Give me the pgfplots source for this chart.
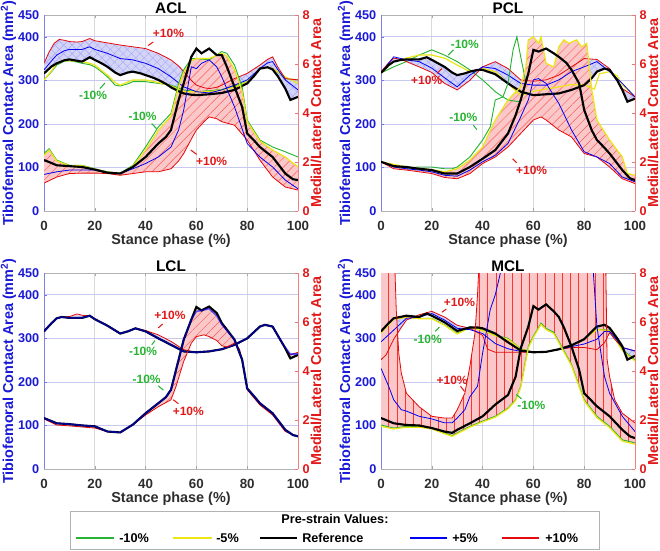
\documentclass[border=0pt]{standalone}
\usepackage{fontspec}
\setmainfont{Liberation Sans}
\usepackage{pgfplots}
\pgfplotsset{compat=1.18}
\usepgfplotslibrary{fillbetween}
\usetikzlibrary{patterns.meta}

\definecolor{mblue}{RGB}{25,25,215}
\definecolor{mred}{RGB}{225,25,25}
\definecolor{cgreen}{RGB}{40,180,50}
\definecolor{cyellow}{RGB}{235,230,20}
\definecolor{cblue}{RGB}{0,0,245}
\definecolor{cred}{RGB}{230,10,10}
\definecolor{pinkfill}{RGB}{250,200,200}
\definecolor{lavfill}{RGB}{212,212,245}
\definecolor{gridblue}{RGB}{200,200,240}
\definecolor{axgray}{RGB}{45,45,45}

\newcommand{\tickfont}{\fontsize{9.5}{10}\selectfont\bfseries}
\newcommand{\xtickfont}{\fontsize{10}{11}\selectfont\bfseries}
\newcommand{\labfont}{\fontsize{10.8}{12}\selectfont\bfseries}
\newcommand{\annfont}{\fontsize{9}{10}\selectfont\bfseries}

\pgfplotsset{
  leftax/.style={
    set layers,
    scale only axis, width=190.5pt, height=147pt,
    anchor=south west,
    xmin=0, xmax=100, ymin=0, ymax=450,
    xtick={0,20,40,60,80,100}, ytick={0,100,200,300,400,450},
    ytick pos=left,
    tick align=inside, major tick length=2.5pt,
    xmajorgrids, ymajorgrids,
    major x grid style={draw=gray!30, line width=0.5pt},
    major y grid style={draw=gridblue, line width=0.5pt},
    separate axis lines,
    x axis line style={draw=gray!60, -},
    y axis line style={draw=mblue!55, -},
    xtick style={draw=gray!70},
    ytick style={draw=mblue!60},
    /pgf/number format/assume math mode=true,
    xticklabel style={font=\xtickfont, text=axgray, yshift=-4pt},
    yticklabel style={font=\tickfont, text=mblue},
    xlabel={Stance phase (\%)},
    ylabel={Tibiofemoral Contact Area (mm\textsuperscript{2})},
    every axis x label/.style={at={(axis description cs:0.5,-0.173)}, anchor=base, font=\labfont, text=axgray},
    every axis y label/.style={at={(axis description cs:-0.14,0.5)}, rotate=90, anchor=center, font=\labfont, text=mblue},
    every axis title/.style={at={(axis description cs:0.5,1)}, anchor=base, yshift=1.5pt, font=\fontsize{11.5}{12}\selectfont\bfseries},
  },
  rightax/.style={
    scale only axis, width=190.5pt, height=147pt,
    anchor=south west,
    xmin=0, xmax=100, ymin=0, ymax=8, ytick={0,2,4,6,8},
    axis x line=none, axis y line*=right,
    y axis line style={draw=mred!55, -},
    ytick style={draw=mred!60},
    tick align=inside, major tick length=2.5pt,
    /pgf/number format/assume math mode=true,
    yticklabel style={font=\tickfont, text=mred},
    ylabel={Medial/Lateral Contact Area},
    every axis y label/.style={at={(axis description cs:1.071,0.5)}, rotate=90, anchor=center, font=\labfont, text=mred},
  },
  gline/.style={cgreen, line width=0.7pt},
  yline/.style={cyellow, line width=0.9pt},
  bline/.style={cblue, line width=0.6pt},
  rline/.style={cred, line width=0.6pt},
  kline/.style={black, line width=1.6pt},
  pinkA/.style={fill=pinkfill, draw=none},
  pinkB/.style={draw=none, pattern={Lines[angle=45,distance=4.8pt,line width=0.35pt]}, pattern color=red!65},
  pinkV/.style={draw=none, pattern={Lines[angle=90,distance=6.2pt,line width=0.4pt]}, pattern color=red!80},
  lavA/.style={fill=lavfill, draw=none},
  lavB/.style={draw=none, pattern={Hatch[angle=45,distance=4.5pt,line width=0.3pt]}, pattern color=blue!35},
}

\begin{document}
\begin{tikzpicture}

% ================= ACL =================
\begin{axis}[leftax, title={ACL}, at={(33pt,-158.25pt)}]
% contact area
\addplot[gline] coordinates {(0,301)(3,320)(5,335)(8,344)(10,345)(13,342)(15,339)(18,336)(20,331)(23,318)(25,308)(28,289)(30,287)(33,292)(35,297)(40,297)(45,293)(50,289)(55,278)(60,274)(65,276)(70,279)(75,287)(80,297)(83,313)(85,327)(88,330)(90,327)(93,315)(95,304)(100,301)};
\addplot[yline] coordinates {(0,301)(3,322)(5,339)(8,345)(10,345)(13,344)(15,343)(18,339)(20,335)(25,312)(28,295)(30,289)(33,296)(35,301)(40,301)(45,295)(50,287)(55,274)(60,274)(65,274)(70,278)(75,284)(80,297)(85,327)(88,330)(90,327)(95,308)(100,293)};
\addplot[rline, name path=ub] coordinates {(0,339)(2,365)(4,385)(6,394)(8,392)(10,389)(13,388)(15,389)(18,396)(20,391)(25,386)(30,381)(35,377)(40,373)(45,362)(50,347)(53,333)(55,320)(58,300)(60,289)(63,283)(65,281)(68,284)(70,289)(75,304)(80,316)(85,335)(88,348)(90,354)(92,331)(95,304)(100,301)};
\addplot[bline] coordinates {(0,324)(3,345)(5,358)(8,368)(10,371)(15,371)(18,377)(20,371)(25,362)(30,350)(35,347)(40,339)(45,327)(50,308)(55,285)(60,274)(65,271)(70,278)(75,289)(80,301)(85,327)(88,340)(90,343)(92,325)(95,301)(100,278)};
\addplot[kline, name path=ua] coordinates {(0,316)(3,332)(5,339)(8,346)(10,348)(13,345)(15,343)(18,353)(20,347)(23,338)(25,331)(28,318)(30,312)(33,318)(35,320)(38,316)(40,312)(43,306)(45,301)(48,292)(50,284)(53,275)(55,270)(58,267)(60,266)(65,268)(70,271)(75,278)(80,293)(83,312)(85,327)(88,330)(90,325)(92,310)(95,281)(97,255)(100,262)};
% medial/lateral ratio (left-axis units)
\addplot[gline] coordinates {(0,132)(2,143)(5,117)(10,105)(15,105)(20,97)(25,90)(30,87)(35,105)(40,147)(45,193)(50,224)(53,293)(55,324)(58,350)(60,350)(65,347)(70,366)(72,362)(75,335)(78,285)(80,209)(85,163)(90,147)(95,136)(100,124)};
\addplot[yline, name path=la] coordinates {(0,128)(2,140)(5,115)(10,104)(15,104)(20,96)(25,89)(30,86)(35,103)(40,140)(45,185)(50,218)(53,285)(55,318)(58,345)(60,350)(65,350)(70,362)(72,355)(75,325)(78,275)(80,205)(85,160)(90,140)(95,124)(100,101)};
\addplot[rline, name path=lb] coordinates {(0,64)(5,78)(10,86)(15,87)(20,87)(25,86)(30,82)(35,86)(40,90)(45,90)(50,97)(53,115)(55,132)(58,165)(60,186)(63,205)(65,216)(68,212)(70,205)(75,197)(80,163)(85,117)(90,78)(95,55)(100,48)};
\addplot[bline] coordinates {(0,84)(5,90)(10,94)(20,94)(25,88)(30,86)(35,97)(40,109)(45,124)(50,147)(53,186)(55,232)(58,331)(60,327)(62,339)(65,347)(68,331)(70,308)(75,239)(80,155)(85,124)(90,101)(95,71)(100,51)};
\addplot[kline] coordinates {(0,117)(3,110)(5,105)(10,103)(15,101)(20,95)(25,88)(30,86)(35,101)(40,124)(45,155)(48,170)(50,186)(53,255)(55,293)(58,354)(60,373)(62,362)(65,373)(68,358)(70,358)(72,331)(75,285)(78,239)(80,178)(83,160)(85,147)(88,133)(90,124)(95,86)(98,73)(100,71)};
\addplot[lavA] fill between[of=ua and ub];
\addplot[lavB] fill between[of=ua and ub];
\addplot[pinkA] fill between[of=la and lb];
\addplot[pinkB] fill between[of=la and lb];
\node[font=\annfont, text=mred] at (axis cs:49,408) {+10\%};
\draw[mred, line width=0.8pt] (axis cs:43,388) -- (axis cs:41,380);
\node[font=\annfont, text=cgreen] at (axis cs:19.3,266) {-10\%};
\draw[cgreen, line width=0.8pt] (axis cs:22,281) -- (axis cs:24,294);
\node[font=\annfont, text=cgreen] at (axis cs:38.8,218) {-10\%};
\draw[cgreen, line width=0.8pt] (axis cs:42.4,201) -- (axis cs:44.3,189);
\node[font=\annfont, text=mred] at (axis cs:66,115) {+10\%};
\draw[mred, line width=0.8pt] (axis cs:60.1,130) -- (axis cs:57.8,140);
\end{axis}
\begin{axis}[rightax, at={(33pt,-158.25pt)}]
\addplot[draw=none] coordinates {(0,0)};
\end{axis}

% ================= PCL =================
\begin{axis}[leftax, title={PCL}, at={(285.75pt,-158.25pt)}]
\addplot[gline] coordinates {(0,317)(5,331)(10,343)(15,358)(20,370)(25,358)(30,343)(35,324)(40,301)(45,274)(48,262)(50,255)(53,252)(55,251)};
\addplot[yline] coordinates {(0,317)(5,343)(10,351)(15,358)(20,358)(25,351)(30,335)(35,320)(40,327)(45,320)(50,293)(55,265)(60,275)(65,280)(70,285)(75,290)(80,290)(84,280)(86,315)(90,320)(93,310)(95,290)(100,262)};
\addplot[rline, name path=ub] coordinates {(0,320)(3,340)(5,351)(8,348)(10,343)(15,331)(20,318)(25,293)(30,278)(35,300)(40,331)(45,343)(50,327)(55,301)(60,298)(65,301)(70,312)(75,331)(80,350)(85,348)(90,327)(95,281)(100,262)};
\addplot[bline] coordinates {(0,317)(5,354)(10,347)(15,343)(20,328)(25,306)(30,285)(35,312)(40,331)(45,327)(50,312)(55,293)(60,289)(65,289)(70,301)(75,320)(80,331)(85,343)(90,320)(95,293)(100,262)};
\addplot[kline, name path=ua] coordinates {(0,317)(3,335)(5,343)(8,347)(10,348)(15,348)(18,353)(20,347)(25,331)(28,318)(30,312)(33,316)(35,320)(38,324)(40,324)(45,314)(50,293)(55,274)(60,266)(65,268)(70,270)(75,278)(80,289)(83,305)(85,320)(88,327)(90,324)(93,300)(95,278)(97,251)(100,258)};
\addplot[gline] coordinates {(0,113)(5,103)(10,99)(15,101)(20,101)(25,97)(28,97)(30,101)(35,124)(40,163)(43,193)(45,255)(48,262)(50,293)(52,370)(53.5,400)(55,354)(57,297)};
\addplot[yline, name path=la] coordinates {(0,113)(10,101)(20,95)(25,90)(30,97)(35,117)(40,147)(45,209)(50,255)(55,285)(57,330)(58,393)(60,400)(62,385)(63,400)(65,339)(68,331)(70,377)(72,393)(74,385)(77,393)(79,377)(81,385)(83,278)(85,209)(90,163)(95,124)(97,86)(100,82)};
\addplot[rline, name path=lb] coordinates {(0,113)(5,97)(10,94)(15,90)(20,86)(25,77)(30,74)(35,86)(40,109)(45,124)(50,147)(55,178)(60,209)(63,216)(65,209)(70,186)(75,170)(80,132)(85,124)(90,101)(95,74)(100,63)};
\addplot[bline] coordinates {(0,113)(5,101)(10,97)(15,94)(20,90)(25,82)(30,80)(35,94)(40,113)(45,128)(50,155)(55,216)(58,255)(60,301)(62,304)(65,293)(70,247)(75,186)(80,136)(85,124)(90,109)(95,78)(100,67)};
\addplot[kline] coordinates {(0,113)(5,103)(10,101)(15,97)(20,94)(25,86)(30,86)(35,101)(40,120)(45,140)(50,178)(53,220)(55,255)(58,316)(60,370)(62,366)(65,373)(68,362)(70,354)(73,340)(75,324)(78,293)(80,232)(83,185)(85,163)(88,145)(90,132)(95,94)(98,75)(100,71)};
\addplot[lavA] fill between[of=ua and ub];
\addplot[lavB] fill between[of=ua and ub];
\addplot[pinkA] fill between[of=la and lb];
\addplot[pinkB] fill between[of=la and lb];
\node[font=\annfont, text=cgreen] at (axis cs:33,383) {-10\%};
\draw[cgreen, line width=0.8pt] (axis cs:28.5,370) -- (axis cs:26.5,358);
\node[font=\annfont, text=mred] at (axis cs:18,299) {+10\%};
\draw[mred, line width=0.8pt] (axis cs:22,316) -- (axis cs:24,327);
\node[font=\annfont, text=cgreen] at (axis cs:32.4,215) {-10\%};
\draw[cgreen, line width=0.8pt] (axis cs:36.4,197) -- (axis cs:37.7,187);
\node[font=\annfont, text=mred] at (axis cs:59.3,94) {+10\%};
\draw[mred, line width=0.8pt] (axis cs:53.4,111) -- (axis cs:51.8,120);
\end{axis}
\begin{axis}[rightax, at={(285.75pt,-158.25pt)}]
\addplot[draw=none] coordinates {(0,0)};
\end{axis}

% ================= LCL =================
\begin{axis}[leftax, title={LCL}, at={(33pt,-351.75pt)}]
\addplot[rline, name path=ub] coordinates {(0,316)(3,335)(5,346)(7,349)(10,350)(13,356)(15,353)(18,351)(20,344)(25,329)(30,311)(33,316)(36,323)(40,318)(45,308)(50,293)(55,274)(60,268)(65,270)(70,275)(75,285)(80,300)(85,327)(87,331)(90,327)(93,297)(95,277)(97,262)(100,268)};
\addplot[kline, name path=ua] coordinates {(0,316)(3,335)(5,346)(7,349)(10,347)(15,347)(18,352)(20,344)(25,329)(30,311)(33,316)(36,323)(40,316)(45,300)(50,285)(55,270)(60,268)(65,270)(70,275)(75,285)(80,300)(85,327)(87,331)(90,327)(93,297)(95,277)(97,254)(100,262)};
\addplot[cblue, line width=1.2pt, opacity=0.6] coordinates {(0,316)(3,335)(5,346)(7,349)(10,347)(15,347)(18,352)(20,344)(25,329)(30,311)(33,316)(36,323)(40,316)(45,300)(50,285)(55,270)(60,268)(65,270)(70,275)(75,285)(80,300)(85,327)(87,331)(90,327)(93,297)(95,279)(97,264)(100,264)};
\addplot[rline, name path=lb] coordinates {(0,115)(5,101)(10,99)(20,94)(25,86)(30,84)(35,102)(40,124)(45,143)(50,159)(52,190)(55,247)(58,289)(60,304)(63,308)(65,304)(68,295)(70,283)(72,280)(75,289)(77,275)(78,250)(80,182)(85,147)(90,124)(95,86)(100,75)};
\addplot[kline, name path=la] coordinates {(0,117)(5,105)(10,103)(15,100)(20,98)(25,86)(30,84)(35,102)(40,128)(45,151)(48,165)(50,182)(52,228)(55,297)(58,343)(60,372)(62,364)(65,373)(68,358)(70,335)(72,320)(75,297)(78,251)(80,185)(83,165)(85,151)(90,128)(95,90)(98,78)(100,75)};
\addplot[cblue, line width=1.2pt, opacity=0.6] coordinates {(0,117)(5,105)(10,103)(15,100)(20,98)(25,86)(30,84)(35,102)(40,128)(45,151)(48,165)(50,182)(52,228)(55,297)(58,343)(60,362)(62,364)(65,368)(68,352)(70,332)(72,318)(75,297)(78,251)(80,185)(83,165)(85,151)(90,128)(95,90)(98,78)(100,75)};
\addplot[lavA] fill between[of=ua and ub];
\addplot[pinkA] fill between[of=la and lb];
\addplot[pinkB] fill between[of=la and lb];
\node[font=\annfont, text=mred] at (axis cs:49.6,352) {+10\%};
\draw[mred, line width=0.8pt] (axis cs:46.7,333) -- (axis cs:45,324);
\node[font=\annfont, text=cgreen] at (axis cs:39,270) {-10\%};
\draw[cgreen, line width=0.8pt] (axis cs:42.4,285) -- (axis cs:43.7,295);
\node[font=\annfont, text=cgreen] at (axis cs:40.4,205) {-10\%};
\draw[cgreen, line width=0.8pt] (axis cs:45,191) -- (axis cs:47,181);
\node[font=\annfont, text=mred] at (axis cs:56.8,132) {+10\%};
\draw[mred, line width=0.8pt] (axis cs:52.9,150) -- (axis cs:50.9,159);
\end{axis}
\begin{axis}[rightax, at={(33pt,-351.75pt)}]
\addplot[draw=none] coordinates {(0,0)};
\end{axis}

% ================= MCL =================
\begin{axis}[leftax, title={MCL}, at={(285.75pt,-351.75pt)}]
\addplot[gline] coordinates {(0,316)(5,346)(10,349)(15,346)(20,346)(25,331)(30,312)(35,327)(40,319)(45,307)(50,300)(55,276)(60,268)(65,269)(70,275)(75,284)(80,298)(85,321)(90,319)(95,274)(100,251)};
\addplot[yline] coordinates {(0,312)(5,344)(10,348)(15,345)(20,345)(25,330)(30,310)(35,325)(40,318)(45,306)(50,298)(55,275)(60,268)(65,269)(70,275)(75,284)(80,298)(85,320)(90,318)(95,272)(100,248)};
\addplot[rline, name path=ub] coordinates {(0,251)(2,262)(5,298)(8,325)(10,342)(15,354)(20,362)(25,349)(30,330)(35,323)(40,307)(42,275)(45,268)(50,268)(55,268)(60,268)(65,269)(70,274)(75,279)(80,279)(85,274)(88,290)(90,313)(92,298)(95,279)(100,271)};
\addplot[bline] coordinates {(0,292)(5,319)(10,346)(15,349)(20,357)(25,342)(30,323)(35,320)(40,311)(45,288)(50,276)(55,270)(60,268)(65,269)(70,274)(75,281)(80,287)(85,298)(88,316)(90,316)(93,295)(95,279)(100,271)};
\addplot[kline, name path=ua] coordinates {(0,316)(3,335)(5,346)(10,352)(15,349)(18,357)(20,352)(25,337)(30,317)(35,325)(38,325)(40,323)(45,311)(50,291)(55,272)(60,268)(65,269)(70,275)(75,284)(80,298)(85,327)(88,331)(90,324)(93,300)(95,282)(97,251)(100,260)};
\addplot[gline] coordinates {(0,101)(5,94)(10,98)(15,98)(20,94)(25,83)(28,77)(30,83)(35,98)(40,110)(45,121)(50,140)(53,159)(55,190)(58,282)(60,305)(63,335)(65,323)(68,314)(70,293)(75,240)(80,159)(85,121)(90,98)(95,67)(100,60)};
\addplot[yline, name path=la] coordinates {(0,98)(5,92)(10,96)(15,96)(20,92)(25,81)(28,75)(30,81)(35,96)(40,108)(45,119)(50,138)(53,157)(55,187)(58,278)(60,302)(63,332)(65,320)(68,311)(70,290)(75,237)(80,156)(85,118)(90,95)(95,64)(100,57)};
\addplot[rline, name path=lb] coordinates {(0,600)(5,600)(5.5,455)(6,366)(7,266)(8,220)(10,174)(15,143)(20,121)(25,117)(28,117)(30,136)(33,174)(35,236)(37,312)(38,400)(38.5,460)(39,600)(88,600)(88.5,460)(89,252)(90,212)(92,159)(95,128)(100,106)};
\addplot[bline] coordinates {(0,231)(3,190)(5,159)(8,136)(10,133)(15,121)(20,115)(25,106)(28,106)(30,117)(33,136)(35,166)(38,190)(40,266)(43,366)(45,400)(47,450)(48,520)(50,600)(82,600)(83.5,460)(85,327)(88,212)(90,174)(95,121)(100,86)};
\addplot[kline] coordinates {(0,117)(5,105)(10,101)(15,100)(20,94)(25,86)(28,83)(30,90)(35,105)(40,121)(45,148)(50,170)(53,212)(55,277)(58,327)(60,374)(62,366)(65,378)(68,362)(70,349)(72,325)(75,281)(78,228)(80,174)(85,144)(90,121)(95,90)(98,75)(100,71)};
\addplot[lavA] fill between[of=ua and ub];
\addplot[lavB] fill between[of=ua and ub];
\addplot[pinkA] fill between[of=la and lb];
\addplot[pinkV] fill between[of=la and lb];
\node[font=\annfont, text=mred] at (axis cs:30.9,383) {+10\%};
\draw[mred, line width=0.8pt] (axis cs:25.7,367) -- (axis cs:24,360);
\node[font=\annfont, text=cgreen] at (axis cs:18.4,298) {-10\%};
\draw[cgreen, line width=0.8pt] (axis cs:21.4,316) -- (axis cs:23,326);
\node[font=\annfont, text=mred] at (axis cs:28,204) {+10\%};
\draw[mred, line width=0.8pt] (axis cs:31.3,190) -- (axis cs:32.9,178);
\node[font=\annfont, text=cgreen] at (axis cs:59.2,145) {-10\%};
\draw[cgreen, line width=0.8pt] (axis cs:55.3,161) -- (axis cs:53.3,171);
\end{axis}
\begin{axis}[rightax, at={(285.75pt,-351.75pt)}]
\addplot[draw=none] coordinates {(0,0)};
\end{axis}

% ================= legend =================
\draw[gray!60, line width=0.6pt, fill=white] (52.5pt,-383.25pt) rectangle (449.25pt,-411.75pt);
\node[font=\fontsize{9.5}{10}\selectfont\bfseries, anchor=base] at (251.25pt,-392.6pt) {Pre-strain Values:};
\draw[cgreen, line width=1.6pt] (57pt,-403.5pt) -- (85.5pt,-403.5pt);
\node[font=\fontsize{9.5}{10}\selectfont\bfseries, anchor=base west, inner sep=0pt] at (89.25pt,-406.6pt) {-10\%};
\draw[cyellow, line width=1.6pt] (129.75pt,-403.5pt) -- (159pt,-403.5pt);
\node[font=\fontsize{9.5}{10}\selectfont\bfseries, anchor=base west, inner sep=0pt] at (162pt,-406.6pt) {-5\%};
\draw[black, line width=1.6pt] (195pt,-403.5pt) -- (222.75pt,-403.5pt);
\node[font=\fontsize{9.5}{10}\selectfont\bfseries, anchor=base west, inner sep=0pt] at (226.5pt,-406.6pt) {Reference};
\draw[cblue, line width=1.6pt] (307.5pt,-403.5pt) -- (335.25pt,-403.5pt);
\node[font=\fontsize{9.5}{10}\selectfont\bfseries, anchor=base west, inner sep=0pt] at (339pt,-406.6pt) {+5\%};
\draw[cred, line width=1.6pt] (376.5pt,-403.5pt) -- (404.25pt,-403.5pt);
\node[font=\fontsize{9.5}{10}\selectfont\bfseries, anchor=base west, inner sep=0pt] at (408.75pt,-406.6pt) {+10\%};

\pgfresetboundingbox
\path[use as bounding box] (0,0) rectangle (495pt,-412.5pt);
\end{tikzpicture}
\end{document}
